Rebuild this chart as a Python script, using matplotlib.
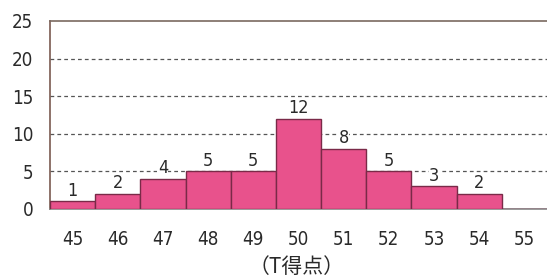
import matplotlib.pyplot as plt
import numpy as np

plt.rcParams['font.family'] = ['DejaVu Sans', 'Noto Sans CJK JP']
plt.rcParams['font.stretch'] = 'condensed'

# T-score classes and frequencies
scores = ["45", "46", "47", "48", "49", "50", "51", "52", "53", "54", "55"]
counts = [1, 2, 4, 5, 5, 12, 8, 5, 3, 2, 0]
yticks = [0, 5, 10, 15, 20, 25]

fig = plt.figure(figsize=(5.47, 2.77), dpi=100)
ax = fig.add_axes([50 / 547, 1 - 209 / 277, 497 / 547, 188 / 277])

x = np.arange(len(scores))
ax.bar(x, counts, width=1.0, color='#e8528c', edgecolor='#7a2a48', linewidth=1.0, zorder=3)

for xi, c in zip(x, counts):
    if c > 0:
        ax.text(xi, c + 0.2, str(c), ha='center', va='bottom', fontsize=13, color='#2a2a2a',
                bbox=dict(facecolor='white', edgecolor='none', pad=0.3), zorder=4)

ax.set_xlim(-0.5, len(scores) - 0.5)
ax.set_ylim(0, 25)
ax.set_yticks(yticks)
ax.set_yticklabels([str(v) for v in yticks], fontsize=13.5, color='#2a2a2a')
ax.set_xticks(x)
ax.set_xticklabels(scores, fontsize=13.5, color='#2a2a2a')
ax.tick_params(length=0)
ax.tick_params(axis='y', pad=12)
ax.tick_params(axis='x', pad=15)

for v in yticks[1:-1]:
    ax.axhline(v, color='#555555', linestyle=(0, (3, 2.5)), linewidth=0.9, zorder=1)

ax.spines['right'].set_visible(False)
ax.spines['top'].set_color('#7a6a60')
ax.spines['left'].set_color('#7a5a50')
ax.spines['bottom'].set_color('#888888')
for s in ['top', 'left', 'bottom']:
    ax.spines[s].set_linewidth(1.2)

ax.set_xlabel("（T得点）", fontsize=15, color='#2a2a2a',
              family=['Noto Sans CJK JP', 'DejaVu Sans'])
ax.xaxis.set_label_coords(247 / 497, -47 / 188)

fig.savefig("out.png", dpi=100)
